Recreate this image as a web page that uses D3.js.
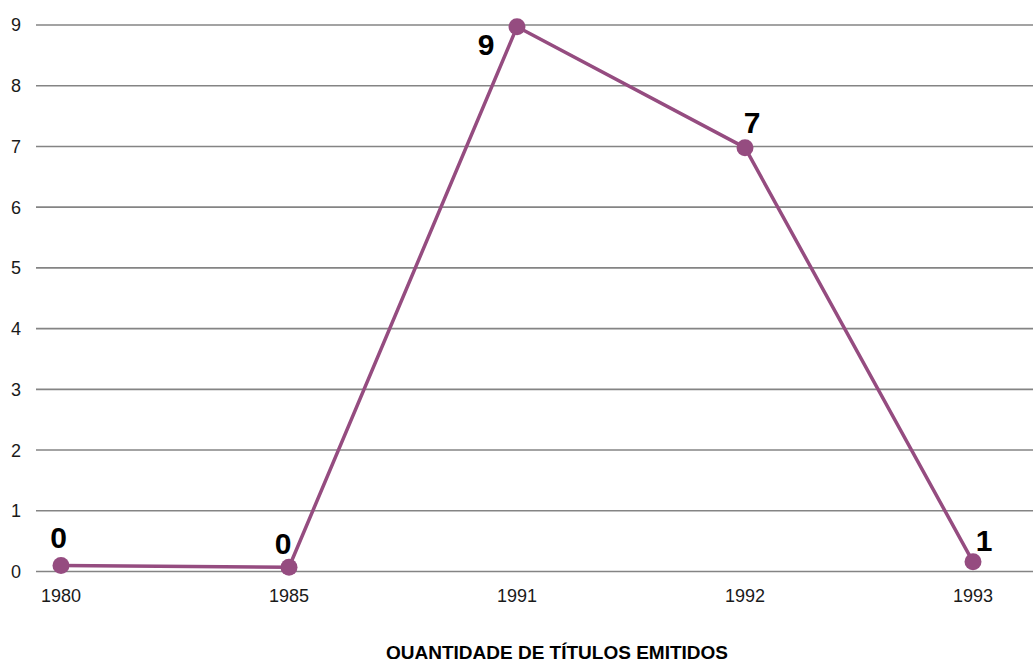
<!DOCTYPE html>
<html>
<head>
<meta charset="utf-8">
<script src="https://cdn.jsdelivr.net/npm/d3@7"></script>
<style>
  body { margin: 0; background: #fff; }
  svg { display: block; font-family: "Liberation Sans", Arial, sans-serif; }
</style>
</head>
<body>
<div id="chart"></div>
<script>
// data
var years = ["1980", "1985", "1991", "1992", "1993"];
var plotted = [0.1, 0.07, 8.97, 6.98, 0.16];   // where the dots sit in the picture
var labels = ["0", "0", "9", "7", "1"];          // printed values
var yTicks = [0, 1, 2, 3, 4, 5, 6, 7, 8, 9];
var title = "QUANTIDADE DE TÍTULOS EMITIDOS";

var w = 1033, h = 659;
var margin = {top: 25, right: 0, bottom: 88, left: 36};
var purple = "#954c80";

var svg = d3.select("#chart").append("svg")
    .attr("width", w)
    .attr("height", h);

var x = d3.scalePoint()
    .domain(years)
    .range([61, 973]);

var y = d3.scaleLinear()
    .domain([0, 9])
    .range([h - margin.bottom + 0.5, margin.top]);

// gridlines
svg.append("g")
    .selectAll("line")
    .data(yTicks)
    .enter()
    .append("line")
    .attr("x1", margin.left)
    .attr("x2", w)
    .attr("y1", d => y(d))
    .attr("y2", d => y(d))
    .attr("stroke", "#848484")
    .attr("stroke-width", 1.6);

// y tick labels
svg.append("g")
    .selectAll("text")
    .data(yTicks)
    .enter()
    .append("text")
    .attr("x", 11)
    .attr("y", d => y(d))
    .attr("dy", "0.36em")
    .style("font-size", "18px")
    .style("fill", "#1a1a1a")
    .text(d => d);

// x tick labels
svg.append("g")
    .selectAll("text")
    .data(years)
    .enter()
    .append("text")
    .attr("x", d => x(d))
    .attr("y", 602)
    .attr("text-anchor", "middle")
    .style("font-size", "18px")
    .style("fill", "#1a1a1a")
    .text(d => d);

// line
var line = d3.line()
    .x((d, i) => x(years[i]))
    .y(d => y(d));

svg.append("path")
    .datum(plotted)
    .attr("d", line)
    .attr("fill", "none")
    .attr("stroke", purple)
    .attr("stroke-width", 3.5)
    .attr("stroke-linejoin", "round");

svg.append("g")
    .selectAll("circle")
    .data(plotted)
    .enter()
    .append("circle")
    .attr("cx", (d, i) => x(years[i]))
    .attr("cy", d => y(d))
    .attr("r", 8.5)
    .attr("fill", purple);

// value labels: offsets from the dot, per placement
var labelPlace = ["above", "aboveLeft", "belowLeft", "aboveRight", "right"];
var placeOffset = {
    above: [-2.5, -17],
    aboveLeft: [-6, -13],
    belowLeft: [-31, 28],
    aboveRight: [7, -15],
    right: [11, -11]
};

svg.append("g")
    .selectAll("text")
    .data(labels)
    .enter()
    .append("text")
    .attr("x", (d, i) => x(years[i]) + placeOffset[labelPlace[i]][0])
    .attr("y", (d, i) => y(plotted[i]) + placeOffset[labelPlace[i]][1])
    .attr("text-anchor", "middle")
    .style("font-size", "30px")
    .style("font-weight", "bold")
    .style("fill", "#000")
    .text(d => d);

// title (sits on the bottom edge, as in the original)
svg.append("text")
    .attr("x", 557)
    .attr("y", 659)
    .attr("text-anchor", "middle")
    .style("font-size", "19px")
    .style("font-weight", "bold")
    .style("fill", "#000")
    .text(title);
</script>
</body>
</html>
